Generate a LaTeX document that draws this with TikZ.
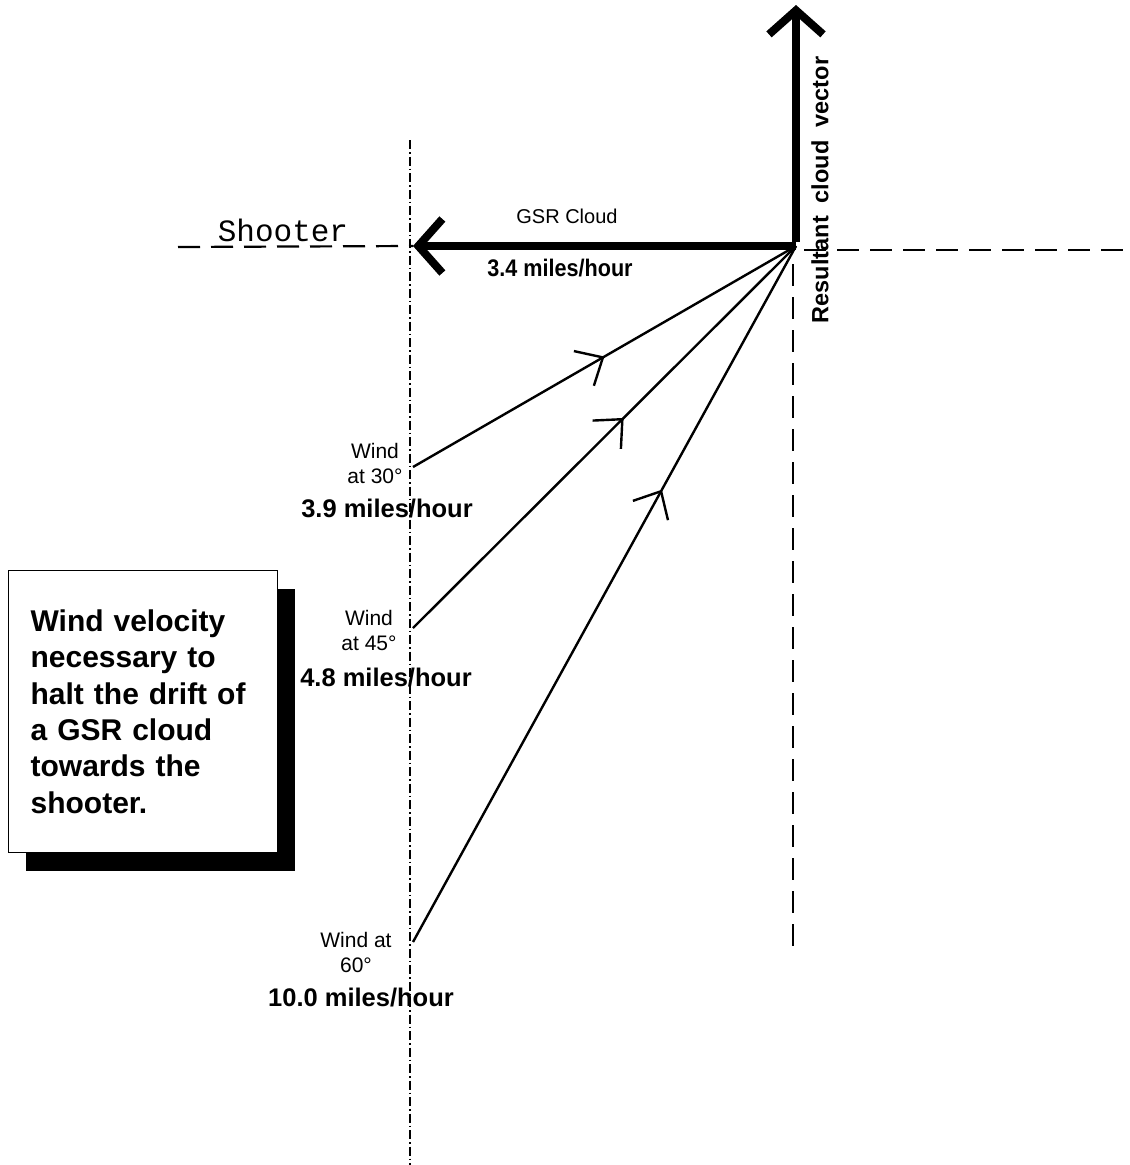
\documentclass[tikz,border=0pt]{standalone}
\usepackage{fontspec}
\setmainfont{Liberation Sans}
\newfontfamily\shooterfont{Liberation Mono}
\usetikzlibrary{arrows.meta, decorations.markings, shadows}
\tikzset{
    big vec/.style={line width=8pt, -{Straight Barb[length=24pt, width=54pt]}}, % 粗矢量
    wind/.style={line width=2.4pt, postaction={decorate}, decoration={markings,
        mark=at position #1 with {\arrow{Straight Barb[length=22pt, width=40pt, line width=2.4pt]}}}}, % 风向线
    guide/.style={line width=2.2pt, dash pattern=on 22pt off 11pt}, % 虚线
    axis dd/.style={line width=1.1pt, dash pattern=on 9pt off 3pt on 1.5pt off 3pt}, % 点划线
    lbl/.style={font=\fontsize{21}{25}\selectfont, align=center, inner sep=0pt},
    speed/.style={font=\fontsize{25.5}{28}\selectfont\bfseries, inner sep=0pt},
    note/.style={draw, line width=1.2pt, fill=white, align=left, anchor=north west,
        minimum width=269pt, minimum height=282pt, text width=225pt, inner xsep=22pt,
        font=\fontsize{30}{36.4}\selectfont\bfseries,
        drop shadow={shadow xshift=17pt, shadow yshift=-18pt, fill=black, opacity=1}}
}

\begin{document}
\begin{tikzpicture}[x=1pt, y=-1pt]
    \useasboundingbox (0,0) rectangle (1130,1165);

    \coordinate (O) at (796,246);
    \coordinate (up) at (796,5);
    \coordinate (left) at (413,246);
    \coordinate (w30) at (413,467);
    \coordinate (w45) at (413,628);
    \coordinate (w60) at (413,942);

    % 辅助线
    \draw[axis dd] (410,140) -- (410,1165);
    \draw[guide] (178,247) -- (left);
    \draw[guide] (804,250) -- (1125,250);
    \draw[guide] (793,264) -- (793,955);

    % 风向
    \draw[wind=0.5] (w30) -- (O);
    \draw[wind=0.55] (w45) -- (O);
    \draw[wind=0.65] (w60) -- (O);

    \draw[big vec] (O) -- (left);
    \draw[big vec] ([yshift=4pt]O) -- (up);

    \node[font=\fontsize{31}{34}\selectfont\shooterfont, inner sep=0pt] (shooter) at (283,230) {Shooter};
    \node[font=\fontsize{20}{24}\selectfont, inner sep=0pt] (gsr) at (567,216) {GSR Cloud};
    \node[font=\fontsize{24}{28}\selectfont\bfseries, inner sep=0pt, xscale=0.9] (rate) at (560,268) {3.4 miles/hour};
    \node[font=\fontsize{23.5}{26}\selectfont\bfseries, rotate=90, inner sep=0pt] (res) at (820,190) {Resultant\ \ cloud\ \ vector};

    \node[lbl] (l30) at (375,463) {Wind\\at 30°};
    \node[speed] (s30) at (387,509) {3.9 miles/hour};
    \node[lbl] (l45) at (369,630) {Wind\\at 45°};
    \node[speed] (s45) at (386,678) {4.8 miles/hour};
    \node[lbl] (l60) at (356,952) {Wind at\\60°};
    \node[speed] (s60) at (361,998) {10.0 miles/hour};

    \node[note] (box) at (8,570) {Wind velocity\\necessary to\\halt the drift of\\a GSR cloud\\towards the\\shooter.};
\end{tikzpicture}
\end{document}
